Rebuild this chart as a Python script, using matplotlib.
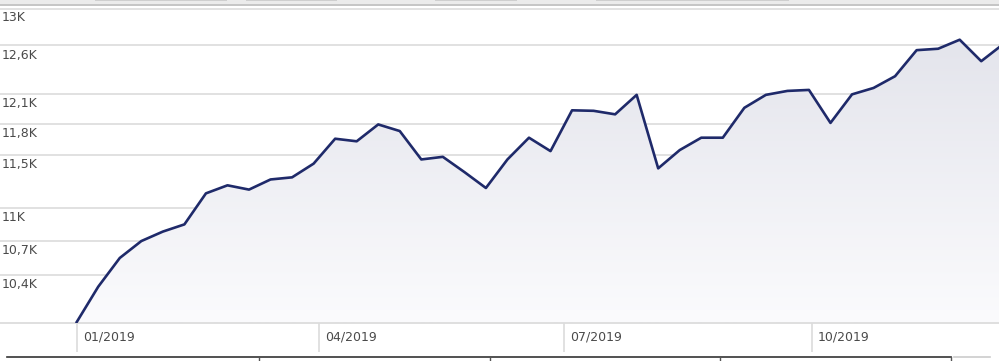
import matplotlib
matplotlib.use('Agg')
import matplotlib.pyplot as plt
import matplotlib.transforms as mtransforms
import matplotlib.dates as mdates
from matplotlib.patches import Rectangle, Polygon
from matplotlib.lines import Line2D
from matplotlib.ticker import NullLocator, FixedLocator
import numpy as np
import pandas as pd

# ---- data ----
dates = pd.date_range('2019-01-01', periods=44, freq='8D')
values = [10000, 10300, 10550, 10700, 10785, 10850, 11135, 11210, 11170, 11265,
          11285, 11415, 11655, 11630, 11795, 11730, 11455, 11480, 11335, 11185,
          11455, 11665, 11535, 11935, 11930, 11895, 12090, 11370, 11545, 11665,
          11665, 11960, 12090, 12130, 12140, 11810, 12095, 12160, 12280, 12550,
          12565, 12660, 12435, 12610]
ytick_values = [10400, 10700, 11000, 11500, 11800, 12100, 12600, 13000]
ytick_labels = ['10,4K', '10,7K', '11K', '11,5K', '11,8K', '12,1K', '12,6K', '13K']
xtick_dates = ['2019-01-01', '2019-04-01', '2019-07-01', '2019-10-01']
xtick_labels = ['01/2019', '04/2019', '07/2019', '10/2019']

W, H = 999, 361
fig = plt.figure(figsize=(W / 100, H / 100), dpi=100)
fig.patch.set_facecolor('white')

ax_top_px, ax_bot_px = 8.0, 323.0
ax = fig.add_axes([0, (H - ax_bot_px) / H, 1, (ax_bot_px - ax_top_px) / H])
ax.set_facecolor('white')
ax.set_yscale('log')

x = mdates.date2num(dates.to_pydatetime())
ymin, ymax = 9992, 13000

# gradient fill under line
top_c = np.array([0xe1, 0xe2, 0xea]) / 255
bot_c = np.array([0xfb, 0xfb, 0xfd]) / 255
t = np.linspace(0, 1, 256)[:, None]
grad = (top_c[None, :] * (1 - t) + bot_c[None, :] * t)[:, None, :]
im = ax.imshow(grad, extent=[0, 1, 0, 1], transform=ax.transAxes, aspect='auto',
               zorder=1, interpolation='bilinear')
verts = list(zip(x, values)) + [(x[-1], ymin), (x[0], ymin)]
poly = Polygon(verts, closed=True, transform=ax.transData, facecolor='none',
               edgecolor='none')
ax.add_patch(poly)
im.set_clip_path(poly)

ax.plot(x, values, color='#1f2a6a', lw=1.9, zorder=3, solid_joinstyle='round')

# axes limits
x0 = mdates.date2num(pd.Timestamp('2019-01-01').to_pydatetime())
ax.set_xlim(x0 - 28.5, x0 + 342.6)
ax.set_ylim(ymin, ymax)

# y grid
ax.yaxis.set_major_locator(FixedLocator(ytick_values))
ax.yaxis.set_minor_locator(NullLocator())
ax.grid(axis='y', which='major', color='#dedede', lw=1.3, zorder=0)
ax.set_axisbelow(True)
ax.tick_params(axis='y', which='both', left=False, labelleft=False)

# x ticks
xt = mdates.date2num([pd.Timestamp(d).to_pydatetime() for d in xtick_dates])
ax.set_xticks(xt)
ax.xaxis.set_minor_locator(NullLocator())
ax.tick_params(axis='x', which='major', length=29 * 0.72, width=1.2, color='#dcdcdc',
               direction='out', labelbottom=False)

for s in ['top', 'left', 'right']:
    ax.spines[s].set_visible(False)
ax.spines['bottom'].set_color('#dcdcdc')
ax.spines['bottom'].set_linewidth(1.3)

# y labels (below each gridline, at left)
ytrans = mtransforms.blended_transform_factory(ax.transAxes, ax.transData)
ytrans = mtransforms.offset_copy(ytrans, fig=fig, x=1.5, y=-13.3, units='dots')
for v, lab in zip(ytick_values, ytick_labels):
    ax.text(0, v, lab, transform=ytrans, ha='left', va='baseline', fontsize=9,
            color='#4a4a4a', family='DejaVu Sans', zorder=5, clip_on=False)

# x labels (right of tick)
xtrans = mtransforms.blended_transform_factory(ax.transData, ax.transAxes)
xtrans = mtransforms.offset_copy(xtrans, fig=fig, x=6.5, y=-17.7, units='dots')
for d, lab in zip(xt, xtick_labels):
    ax.text(d, 0, lab, transform=xtrans, ha='left', va='baseline', fontsize=9,
            color='#4a4a4a', family='DejaVu Sans', clip_on=False)

# ---- header decoration ----
def fy(py):
    return (H - py) / H

fig.patches.append(Rectangle((0, fy(4.3)), 1, 4.3 / H, transform=fig.transFigure,
                             facecolor='#ebebeb', edgecolor='none', zorder=0))
for a, b in [(95, 227), (246, 337), (435, 517), (596, 789)]:
    fig.patches.append(Rectangle((a / W, fy(1.2)), (b - a) / W, 1.2 / H,
                                 transform=fig.transFigure, facecolor='#cfcfcf',
                                 edgecolor='none', zorder=1))
fig.patches.append(Rectangle((0, fy(6.0)), 1, 1.7 / H, transform=fig.transFigure,
                             facecolor='#c6c6c6', edgecolor='none', zorder=1))
fig.patches.append(Rectangle((0, fy(9.6)), 1, 1.6 / H, transform=fig.transFigure,
                             facecolor='#e2e2e2', edgecolor='none', zorder=1))

# ---- bottom navigator decoration ----
fig.lines.append(Line2D([7 / W, 951 / W], [fy(357.3)] * 2, transform=fig.transFigure,
                        color='#333333', lw=1.2))
for px in [259, 490, 720, 951]:
    fig.lines.append(Line2D([px / W] * 2, [fy(357.3), fy(361)], transform=fig.transFigure,
                            color='#555555', lw=1.0))
fig.lines.append(Line2D([954 / W, 990 / W], [fy(357.3)] * 2, transform=fig.transFigure,
                        color='#cccccc', lw=1.2))

fig.savefig('out.png', dpi=100, facecolor='white')
